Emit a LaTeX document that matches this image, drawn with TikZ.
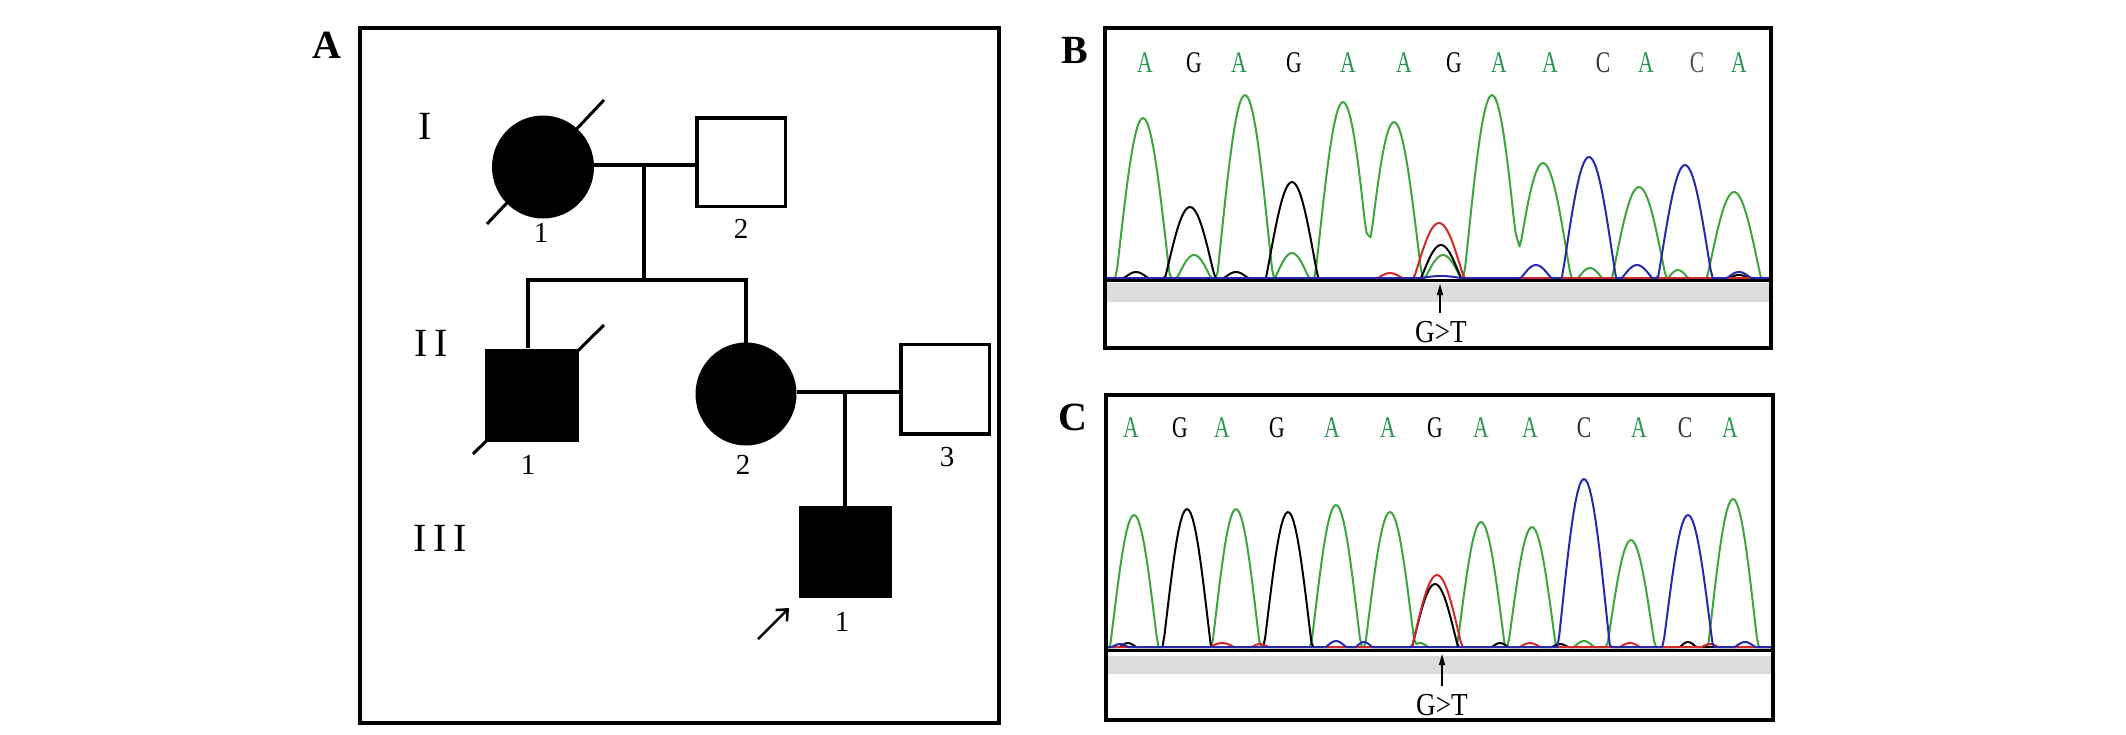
\documentclass[tikz,border=0pt]{standalone}
\usepackage{fontspec}
\setmainfont{Liberation Serif}
\usetikzlibrary{shapes.geometric,arrows.meta}
\definecolor{tgreen}{RGB}{60,165,60}
\definecolor{tblue}{RGB}{40,40,170}
\definecolor{tred}{RGB}{210,40,40}
\definecolor{lgreen}{RGB}{40,150,80}
\definecolor{band}{RGB}{220,220,220}
\definecolor{dgrey}{RGB}{50,50,50}
\definecolor{mgrey}{RGB}{85,85,85}
\begin{document}
\begin{tikzpicture}[x=1pt,y=-1pt,
  declare function={
    bv(\t,\c,\w)=max(0,1-min(abs((\t-\c)/\w),1.2)*min(abs((\t-\c)/\w),1.2));
    bump(\t,\c,\w)=bv(\t,\c,\w)*(0.7+0.3*bv(\t,\c,\w));},
  ped/.style={line width=3.5pt},
  aff/.style={fill=black,draw=black,line width=3pt},
  unaff/.style={fill=white,draw=black,line width=3.5pt},
  fem/.style={ellipse,inner sep=0pt},
  male/.style={rectangle,inner sep=0pt},
  num/.style={font=\fontsize{29}{29}\selectfont,inner sep=0pt},
  gen/.style={font=\fontsize{40}{40}\selectfont,inner sep=0pt},
  panel/.style={font=\fontsize{40}{40}\selectfont\bfseries,inner sep=0pt},
  seq/.style={font=\fontsize{30}{30}\selectfont,xscale=0.72,inner sep=0pt},
  mut/.style={font=\fontsize{32}{32}\selectfont,xscale=0.85,inner sep=0pt},
  frame/.style={line width=4pt},
  trace/.style={line width=2pt,line join=round},
  axisline/.style={line width=3pt}
]
\fill[white] (0,0) rectangle (2126,734);
\useasboundingbox (0,0) rectangle (2126,734);

% ---------------- Panel A ----------------
\node[panel] (la) at (327,45) {A};
\draw[frame] (360,28) rectangle (999,723);

\node[gen] (g1) at (425,126) {I};
\node[gen] (g2) at (431,343) {I\kern7pt I};
\node[gen] (g3) at (440,538) {I\kern7pt I\kern7pt I};

% generation I
\node[fem,aff,minimum width=99,minimum height=100] (i1) at (543,167) {};
\node[male,unaff,minimum width=88.5,minimum height=88.5] (i2) at (741,162) {};
\coordinate (d1a) at (487,224);
\coordinate (d1b) at (604,100);
\draw[line width=3pt] (d1a) -- (d1b);
\node[num] (n11) at (541,233) {1};
\node[num] (n12) at (741,229) {2};

\coordinate (m1) at (644,165);
\coordinate (s1) at (644,280);
\draw[ped] (i1.east |- m1) -- (i2.west |- m1);
\draw[ped] (m1) -- (s1);

% generation II
\node[male,aff,minimum width=91,minimum height=90] (ii1) at (532,395) {};
\node[fem,aff,minimum width=98,minimum height=100] (ii2) at (746,394) {};
\node[male,unaff,minimum width=88.5,minimum height=89.5] (ii3) at (945,389) {};
\coordinate (d2a) at (473,454);
\coordinate (d2b) at (604,325);
\draw[line width=3pt] (d2a) -- (d2b);
\node[num] (n21) at (528,465) {1};
\node[num] (n22) at (743,465) {2};
\node[num] (n23) at (947,457) {3};

\coordinate (c1) at (528,280);
\coordinate (c2) at (746,280);
\coordinate (c1b) at (528,348);
\coordinate (c2b) at (746,343);
\draw[ped] (c1b) -- (c1) -- (c2) -- (c2b);

\coordinate (m2) at (845,392);
\draw[ped] (ii2.east |- m2) -- (ii3.west |- m2);

% generation III
\node[male,aff,minimum width=90,minimum height=89] (iii1) at (845,552) {};
\draw[ped] (m2) -- (iii1.north);
\node[num] (n31) at (842,622) {1};
\coordinate (pa) at (758,639);
\coordinate (pb) at (789,608);
\draw[line width=2.5pt,-{Straight Barb[length=9pt,width=16pt,line width=2.5pt]}] (pa) -- (pb);

% ---------------- Panel B ----------------
\node[panel] (lb) at (1075,50) {B};
\begin{scope}
\clip (1107,30) rectangle (1769,279);
\draw[trace,tgreen] plot[domain=1107:1769,samples=330] (\x,{278-(160*bump(\x,1143,27)+23*bump(\x,1194,17)+183*bump(\x,1245,28)+25*bump(\x,1292,17)+176*bump(\x,1343,28)+156*bump(\x,1394,28)+23*bump(\x,1443,18)+183*bump(\x,1492,28)+115*bump(\x,1543,28)+10*bump(\x,1590,12)+91*bump(\x,1639,27)+8*bump(\x,1678,10)+86*bump(\x,1734,27))});
\draw[trace,black] plot[domain=1107:1769,samples=330] (\x,{278-(6*bump(\x,1136,12)+71*bump(\x,1190,25)+6*bump(\x,1236,12)+96*bump(\x,1292,26)+33*bump(\x,1441,20)+3*bump(\x,1739,10))});
\draw[trace,tred] plot[domain=1107:1769,samples=330] (\x,{278-(5*bump(\x,1390,12)+55*bump(\x,1439,25))});
\draw[trace,tblue] plot[domain=1107:1769,samples=330] (\x,{278-(2*bump(\x,1441,20)+13*bump(\x,1536,15)+121*bump(\x,1589,27)+13*bump(\x,1637,15)+113*bump(\x,1685,27)+6*bump(\x,1739,12))});
\end{scope}
\fill[band] (1107,283) rectangle (1769,302);
\draw[axisline] (1107,280) -- (1769,280);
\draw[frame] (1105,28) rectangle (1771,348);
\foreach \xx/\ll/\cc [count=\i] in {1145/A/lgreen,1194/G/black,1239/A/lgreen,1294/G/black,1348/A/lgreen,1404/A/lgreen,1454/G/black,1499/A/lgreen,1550/A/lgreen,1603/C/dgrey,1646/A/lgreen,1697/C/mgrey,1739/A/lgreen}
  \node[seq,text=\cc] (bs\i) at (\xx,63) {\ll};
\node[mut] (bm) at (1441,332) {G>T};
\coordinate (bt) at (1440,313);
\coordinate (ba) at (1440,284);
\draw[line width=1.3pt,-{Triangle[length=11pt,width=6pt]}] (bt) -- (ba);

% ---------------- Panel C ----------------
\node[panel] (lc) at (1073,417) {C};
\begin{scope}
\clip (1108,397) rectangle (1771,648);
\draw[trace,tgreen] plot[domain=1108:1771,samples=330] (\x,{647-(132*bump(\x,1134,24)+138*bump(\x,1236,24)+142*bump(\x,1336,25)+135*bump(\x,1390,25)+125*bump(\x,1481,24)+120*bump(\x,1532,24)+107*bump(\x,1631,24)+148*bump(\x,1733,25)+6*bump(\x,1584,10)+4*bump(\x,1420,8))});
\draw[trace,black] plot[domain=1108:1771,samples=330] (\x,{647-(138*bump(\x,1187,24)+135*bump(\x,1288,24)+63*bump(\x,1435,23)+4*bump(\x,1128,8)+4*bump(\x,1500,8)+5*bump(\x,1688,8)+3*bump(\x,1560,8))});
\draw[trace,tred] plot[domain=1108:1771,samples=330] (\x,{647-(72*bump(\x,1437,25)+4*bump(\x,1222,12)+3*bump(\x,1260,8)+4*bump(\x,1530,10)+4*bump(\x,1630,10)+3*bump(\x,1710,8))});
\draw[trace,tblue] plot[domain=1108:1771,samples=330] (\x,{647-(168*bump(\x,1584,26)+132*bump(\x,1688,25)+6*bump(\x,1336,10)+5*bump(\x,1364,8)+3*bump(\x,1120,8)+5*bump(\x,1745,10))});
\end{scope}
\fill[band] (1108,656) rectangle (1771,674);
\draw[axisline] (1108,650) -- (1771,650);
\draw[frame] (1106,395) rectangle (1773,720);
\foreach \xx/\ll/\cc [count=\i] in {1131/A/lgreen,1180/G/black,1222/A/lgreen,1277/G/black,1332/A/lgreen,1388/A/lgreen,1435/G/black,1481/A/lgreen,1530/A/lgreen,1584/C/dgrey,1639/A/lgreen,1685/C/dgrey,1730/A/lgreen}
  \node[seq,text=\cc] (cs\i) at (\xx,428) {\ll};
\node[mut] (cm) at (1442,705) {G>T};
\coordinate (ct) at (1442,686);
\coordinate (ca) at (1442,654);
\draw[line width=1.3pt,-{Triangle[length=11pt,width=6pt]}] (ct) -- (ca);
\end{tikzpicture}
\end{document}
